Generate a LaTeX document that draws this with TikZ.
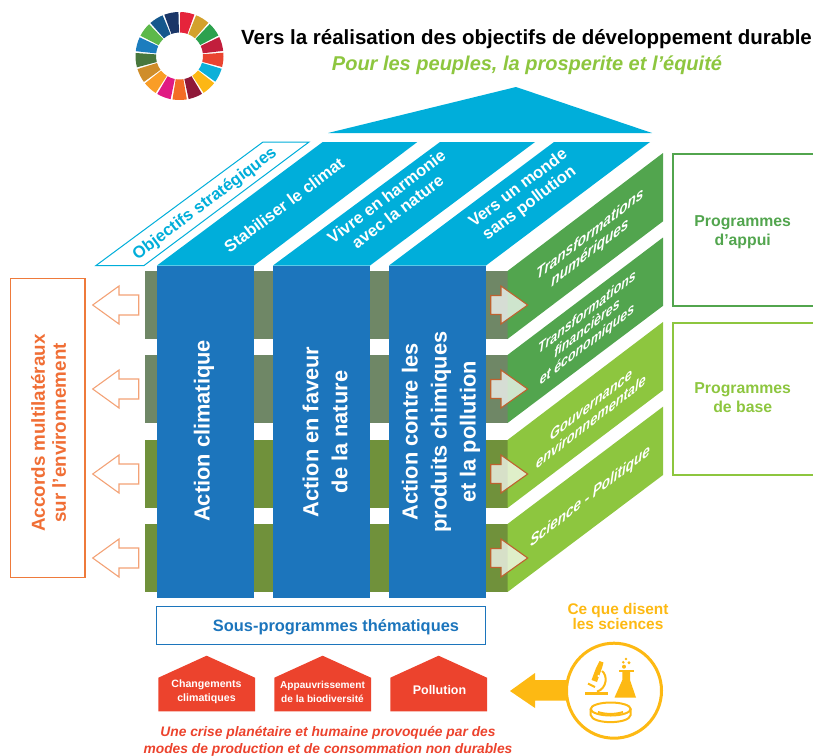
\documentclass[tikz,border=0pt]{standalone}
\usepackage{fontspec}
\setmainfont{Liberation Sans}[Ligatures=ResetAll]
\usepackage{xcolor}
\usetikzlibrary{positioning}
\definecolor{skyblue}{HTML}{00AEDA}
\definecolor{colblue}{HTML}{1C75BC}
\definecolor{leafdark}{HTML}{52A54E}
\definecolor{leaflight}{HTML}{8DC63F}
\definecolor{banddark}{HTML}{6F8766}
\definecolor{bandlight}{HTML}{70913B}
\definecolor{crisisred}{HTML}{EC432D}
\definecolor{accordorange}{HTML}{EE7A3B}
\definecolor{sciyellow}{HTML}{FDB913}
\tikzset{
    sloped text/.style={rotate=37},
    skew/.style={sloped text, font=\bfseries\fontsize{16.5}{18.5}\selectfont, text=white, align=center},
    pillar/.style={rotate=90, font=\bfseries\fontsize{21.8}{29}\selectfont, text=white, align=center},
    sidebar/.style={cm={0.8,0.62,0,0.95,(0,0)}, font=\bfseries\itshape\fontsize{17}{19}\selectfont, text=white, align=center},
    roofshape/.style={fill=skyblue},
    toleft/.style={draw=accordorange!70, fill=white, line width=1.1pt},
    toright/.style={draw=accordorange!80!black, fill=white, fill opacity=0.72, line width=1.1pt},
    housetext/.style={font=\bfseries\fontsize{10.6}{14}\selectfont, text=white, align=center},
    progtext/.style={font=\bfseries\fontsize{15.8}{19}\selectfont, align=center}
}
\begin{document}
\begin{tikzpicture}[x=1pt, y=-1pt]
  \useasboundingbox (0,0) rectangle (813,755);

  % SDG wheel
  \begin{scope}[shift={(179.5,56)}, y=1pt]
    \foreach \wcol [count=\wi from 0] in {E5243B,D3A12C,2CA14E,C21E3C,EA4430,0CB0D8,FDB714,8F1838,F36D25,E01A83,F99D26,CF8D2A,48773C,1C7DBE,5DB84A,15588D,1A3668} {
      \definecolor{wheelcol}{HTML}{\wcol}
      \pgfmathsetmacro{\wa}{89-\wi*360/17}
      \pgfmathsetmacro{\wb}{\wa-18.8}
      \fill[wheelcol] (\wa:44) arc[start angle=\wa, end angle=\wb, radius=44]
        -- (\wb:23.5) arc[start angle=\wb, end angle=\wa, radius=23.5] -- cycle;
    }
  \end{scope}

  % Titles
  \node[font=\bfseries\fontsize{20.5}{22}\selectfont, text=black] (title) at (526.5,39.5) {Vers la réalisation des objectifs de développement durable};
  \node[font=\bfseries\itshape\fontsize{20}{22}\selectfont, text=leaflight] (subtitle) at (527,65) {Pour les peuples, la prosperite et l'équité};

  % Roof
  \fill[roofshape] (328,133) -- (516,87) -- (652,133) -- cycle;
  \draw[skyblue, line width=1pt, fill=white] (96,265.5) -- (263,142) -- (309,142) -- (144,265.5) -- cycle;
  \fill[roofshape] (157,265.5) -- (322.7,142) -- (417.3,142) -- (254,265.5) -- cycle;
  \fill[roofshape] (273,265.5) -- (440,142) -- (535,142) -- (370,265.5) -- cycle;
  \fill[roofshape] (389,265.5) -- (554,142) -- (650,142) -- (486,265.5) -- cycle;

  \node[sloped text, font=\bfseries\fontsize{16.7}{18}\selectfont, text=skyblue] (goals) at (205,204) {Objectifs stratégiques};
  \node[skew] (goal1) at (284,205) {Stabiliser le climat};
  \node[skew] (goal2) at (392,204) {Vivre en harmonie\\avec la nature};
  \node[skew] (goal3) at (524,196) {Vers un monde\\sans pollution};

  % Bands and side faces
  \foreach \btop/\bcol/\rtop/\scol in {271/banddark/153/leafdark, 355/banddark/237.5/leafdark, 440/bandlight/322/leaflight, 524/bandlight/406.7/leaflight} {
    \fill[\bcol] (145,\btop) rectangle (507.5,\btop+68);
    \fill[\scol] (507.5,\btop) -- (663,\rtop) -- (663,\rtop+68.3) -- (507.5,\btop+68) -- cycle;
  }

  % Columns
  \fill[colblue] (157,265.5) rectangle (254,598);
  \fill[colblue] (273,265.5) rectangle (370,598);
  \fill[colblue] (389,265.5) rectangle (486,598);
  \node[pillar] (col1) at (204,431) {Action climatique};
  \node[pillar] (col2) at (325,432) {Action en faveur\\de la nature};
  \node[pillar] (col3) at (441,432) {Action contre les\\produits chimiques\\et la pollution};

  % Side labels
  \node[sidebar] (side1) at (590,244) {Transformations\\numériques};
  \node[sidebar, font=\bfseries\itshape\fontsize{15.5}{17}\selectfont] (side2) at (587,329) {Transformations\\financières\\et économiques};
  \node[sidebar, font=\bfseries\itshape\fontsize{16}{18}\selectfont] (side3) at (591,413) {Gouvernance\\environnementale};
  \node[sidebar, font=\bfseries\itshape\fontsize{16.8}{18}\selectfont] (side4) at (590,497) {Science - Politique};

  % Arrows
  \foreach \ay in {305,389,474,558} {
    \draw[toright] (490.7,\ay-9.5) -- (501,\ay-9.5) -- (501,\ay-19) -- (527.7,\ay) -- (501,\ay+19) -- (501,\ay+9.5) -- (490.7,\ay+9.5) -- cycle;
    \draw[toleft] (138.7,\ay-10) -- (119,\ay-10) -- (119,\ay-19) -- (92.7,\ay) -- (119,\ay+19) -- (119,\ay+10) -- (138.7,\ay+10) -- cycle;
  }

  % Accords box
  \draw[accordorange, line width=1.2pt] (10.5,278.5) rectangle (85,577.5);
  \node[rotate=90, font=\bfseries\fontsize{18.8}{21}\selectfont, text=accordorange!90!red, align=center] (accords) at (48.5,433) {Accords multilatéraux\\sur l'environnement};

  % Programme boxes
  \draw[leafdark, line width=2pt] (815,153.5) -- (673,153.5) -- (673,305.5) -- (815,305.5);
  \draw[leaflight, line width=2pt] (815,322.5) -- (672.5,322.5) -- (672.5,474.5) -- (815,474.5);
  \node[progtext, text=leafdark] (support) at (742.7,232) {Programmes\\d'appui};
  \node[progtext, text=leaflight] (core) at (742.7,398) {Programmes\\de base};

  % Sub-programmes
  \node[draw=colblue, line width=1.2pt, minimum width=329pt, minimum height=38pt, inner sep=0pt] (subbox) at (321.3,625.8) {};
  \node[font=\bfseries\fontsize{16.4}{19}\selectfont, text=colblue] (subtext) at (336,627) {Sous-programmes thématiques};

  % Houses
  \foreach \hl/\hname in {158.3/one, 274.3/two, 390.3/three} {
    \fill[crisisred] (\hl,677.7) -- (\hl+48.3,655.7) -- (\hl+96.7,677.7) -- (\hl+96.7,711.3) -- (\hl,711.3) -- cycle;
  }
  \node[housetext] (crisis1) at (206.5,691.5) {Changements\\climatiques};
  \node[housetext, font=\bfseries\fontsize{10.1}{14}\selectfont] (crisis2) at (322.5,691.5) {Appauvrissement\\de la biodiversité};
  \node[housetext, font=\bfseries\fontsize{12.5}{14}\selectfont] (crisis3) at (439.5,690.5) {Pollution};
  \node[font=\bfseries\itshape\fontsize{13.8}{16.5}\selectfont, text=crisisred, align=center] (crisis) at (328,741.3) {Une crise planétaire et humaine provoquée par des\\modes de production et de consommation non durables};

  % Science
  \node[font=\bfseries\fontsize{15.4}{14.5}\selectfont, text=sciyellow, align=center] (science) at (618,616.5) {Ce que disent\\les sciences};
  \node[draw=sciyellow, circle, line width=3pt, minimum size=95pt, inner sep=0pt] (lab) at (614,690.7) {};
  \fill[sciyellow] (510,691) -- (535,673) -- (535,680) -- (566.5,680) -- (566.5,700.7) -- (535,700.7) -- (535,708) -- cycle;

  % Microscope
  \begin{scope}[sciyellow]
    \fill (585,691.7) rectangle (607.7,694.7);
    \fill (599.5,661) -- (603.5,662.5) -- (602,668) -- (597,682) -- (591.5,680) -- (596,668) -- cycle;
    \draw[line width=2pt] (602,671) .. controls (607.5,675) and (607.5,688) .. (597,691.7);
    \draw[line width=2pt] (588,683.5) -- (595,687);
    \fill[white] (598.5,676) circle (1.2);
  \end{scope}

  % Flask
  \begin{scope}[sciyellow]
    \fill (619,669.5) rectangle (633.5,671.5);
    \fill (622.3,671) -- (630,671) -- (630,680) -- (636,697.5) -- (614.5,697.5) -- (622.3,680) -- cycle;
    \fill (624,666.7) circle (2);
    \fill (629,662.7) circle (1.6);
    \fill (623.3,662.3) circle (1.4);
    \fill (626,659) circle (1.3);
  \end{scope}

  % Petri dish
  \begin{scope}[sciyellow, line width=2pt]
    \draw (610.7,709) ellipse (20 and 6.5);
    \draw (590.7,709) -- (590.7,715) .. controls (592,724.5) and (629,724.5) .. (630.7,715) -- (630.7,709);
    \draw (598,712) .. controls (605,714.5) and (616,714.5) .. (623,712);
  \end{scope}
\end{tikzpicture}
\end{document}
